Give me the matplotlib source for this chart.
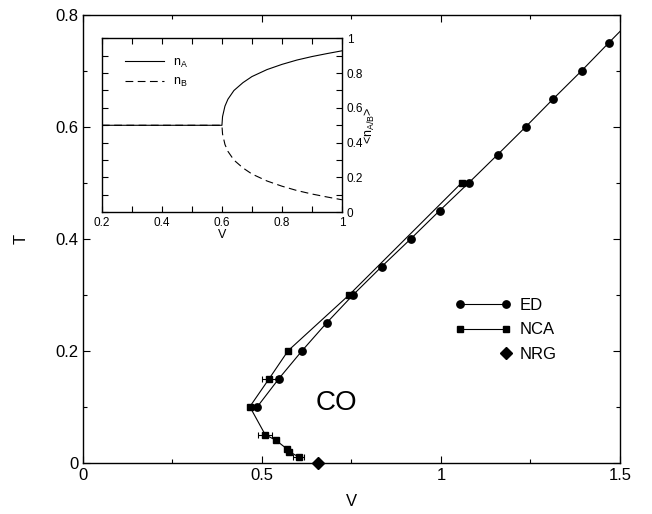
import matplotlib
matplotlib.use('Agg')
import matplotlib.pyplot as plt
from matplotlib.legend_handler import HandlerLine2D
from matplotlib.ticker import MultipleLocator

plt.rcParams['font.family'] = ['Liberation Sans', 'DejaVu Sans']
plt.rcParams['mathtext.default'] = 'regular'

# phase boundary T(V): exact diagonalisation
ed_V = [0.487, 0.547, 0.612, 0.681, 0.755, 0.834, 0.916, 0.996, 1.078,
        1.158, 1.237, 1.314, 1.393, 1.469, 1.546]
ed_T = [0.10, 0.15, 0.20, 0.25, 0.30, 0.35, 0.40, 0.45, 0.50,
        0.55, 0.60, 0.65, 0.70, 0.75, 0.80]

# NCA, with horizontal error bars on a few points
nca_V = [0.603, 0.576, 0.569, 0.539, 0.509, 0.466, 0.520, 0.573, 0.744, 1.058]
nca_T = [0.01, 0.02, 0.025, 0.04, 0.05, 0.10, 0.15, 0.20, 0.30, 0.50]
nca_err = [0.015, 0, 0, 0, 0.02, 0, 0.02, 0, 0, 0]

# NRG at T = 0
nrg_V = [0.657]
nrg_T = [0.0]

# inset: occupations vs V
inset_V = [0.2, 0.6, 0.602, 0.61, 0.62, 0.64, 0.67, 0.70, 0.75, 0.80,
           0.85, 0.90, 0.95, 1.0]
n_A = [0.5, 0.5, 0.55, 0.61, 0.65, 0.70, 0.745, 0.78, 0.82, 0.85,
       0.875, 0.895, 0.912, 0.928]
n_B = [0.5, 0.5, 0.45, 0.39, 0.35, 0.30, 0.255, 0.22, 0.18, 0.15,
       0.125, 0.105, 0.088, 0.072]


class RightMarkerHandler(HandlerLine2D):
    # single marker drawn at the right end of the legend handle
    def create_artists(self, legend, orig_handle, xdescent, ydescent,
                       width, height, fontsize, trans):
        artists = super().create_artists(legend, orig_handle, xdescent,
                                         ydescent, width, height, fontsize,
                                         trans)
        for a in artists:
            x = a.get_xdata()
            pad = 0.3 * fontsize
            a.set_xdata([x[0], x[-1] - pad])
            a.set_ydata(a.get_ydata()[:2])
            a.set_markevery([1])
        return artists


fig = plt.figure(figsize=(6.52, 5.14), dpi=100)
ax = fig.add_axes([0.1273, 0.0998, 0.8236, 0.8716])

lw = 0.8
ed_line, = ax.plot(ed_V, ed_T, '-o', color='black', lw=lw, ms=5.3)
ax.errorbar(nca_V, nca_T, xerr=nca_err, fmt='none', ecolor='black',
            elinewidth=lw, capsize=2, capthick=lw)
nca_line, = ax.plot(nca_V, nca_T, '-s', color='black', lw=lw, ms=4.8)
nrg_line, = ax.plot(nrg_V, nrg_T, 'D', color='black', ms=6, clip_on=False,
                    zorder=5)

ax.text(0.709, 0.107, 'CO', fontsize=20, ha='center', va='center')

ax.set_xlim(0, 1.5)
ax.set_ylim(0, 0.8)
ax.xaxis.set_major_locator(MultipleLocator(0.5))
ax.xaxis.set_minor_locator(MultipleLocator(0.25))
ax.yaxis.set_major_locator(MultipleLocator(0.2))
ax.yaxis.set_minor_locator(MultipleLocator(0.1))
ax.xaxis.set_major_formatter(plt.FuncFormatter(lambda v, p: f'{v:g}'))
ax.yaxis.set_major_formatter(plt.FuncFormatter(lambda v, p: f'{v:g}'))
ax.tick_params(which='both', direction='in', top=True, right=True,
               labelsize=12, width=0.8)
ax.tick_params(which='major', length=5)
ax.tick_params(which='minor', length=3)
for s in ax.spines.values():
    s.set_linewidth(1.0)
ax.set_xlabel('V', fontsize=12, labelpad=8)
ax.set_ylabel('T', fontsize=12, labelpad=19)

ax.legend([ed_line, nca_line, nrg_line], ['ED', 'NCA', 'NRG'],
          handler_map={nrg_line: RightMarkerHandler(numpoints=1)},
          numpoints=2, frameon=False, fontsize=12, handlelength=3.36,
          handletextpad=0.5, labelspacing=0.57, borderpad=0,
          borderaxespad=0, loc='upper left', bbox_to_anchor=(0.693, 0.368))

# inset
ins = fig.add_axes([0.1564, 0.587, 0.368, 0.3385])
ins.plot(inset_V, n_B, color='black', lw=lw, dashes=(7, 4), label='n$_B$')
ins.plot(inset_V, n_A, color='black', lw=lw, label='n$_A$')
ins.set_xlim(0.2, 1.0)
ins.set_ylim(0, 1)
ins.xaxis.set_major_locator(MultipleLocator(0.2))
ins.xaxis.set_minor_locator(MultipleLocator(0.1))
ins.yaxis.set_major_locator(MultipleLocator(0.2))
ins.yaxis.set_minor_locator(MultipleLocator(0.1))
ins.xaxis.set_major_formatter(plt.FuncFormatter(lambda v, p: f'{v:g}'))
ins.yaxis.set_major_formatter(plt.FuncFormatter(lambda v, p: f'{v:g}'))
ins.tick_params(which='both', direction='in', top=True, right=True,
                left=True, labelleft=False, labelright=True,
                labelsize=8.5, width=0.8)
ins.tick_params(which='major', length=4)
ins.tick_params(which='minor', length=4)
for s in ins.spines.values():
    s.set_linewidth(1.0)
ins.set_xlabel('V', fontsize=9, labelpad=0)
ins.yaxis.set_label_position('right')
ins.set_ylabel('<n$_{A/B}$>', fontsize=9, labelpad=0)

h, l = ins.get_legend_handles_labels()
ins.legend(h[::-1], l[::-1], frameon=False, fontsize=9, handlelength=3.1,
           handletextpad=0.7, labelspacing=0.5, loc='upper left',
           bbox_to_anchor=(0.07, 0.93), borderpad=0)

fig.savefig('out.png', dpi=100)
